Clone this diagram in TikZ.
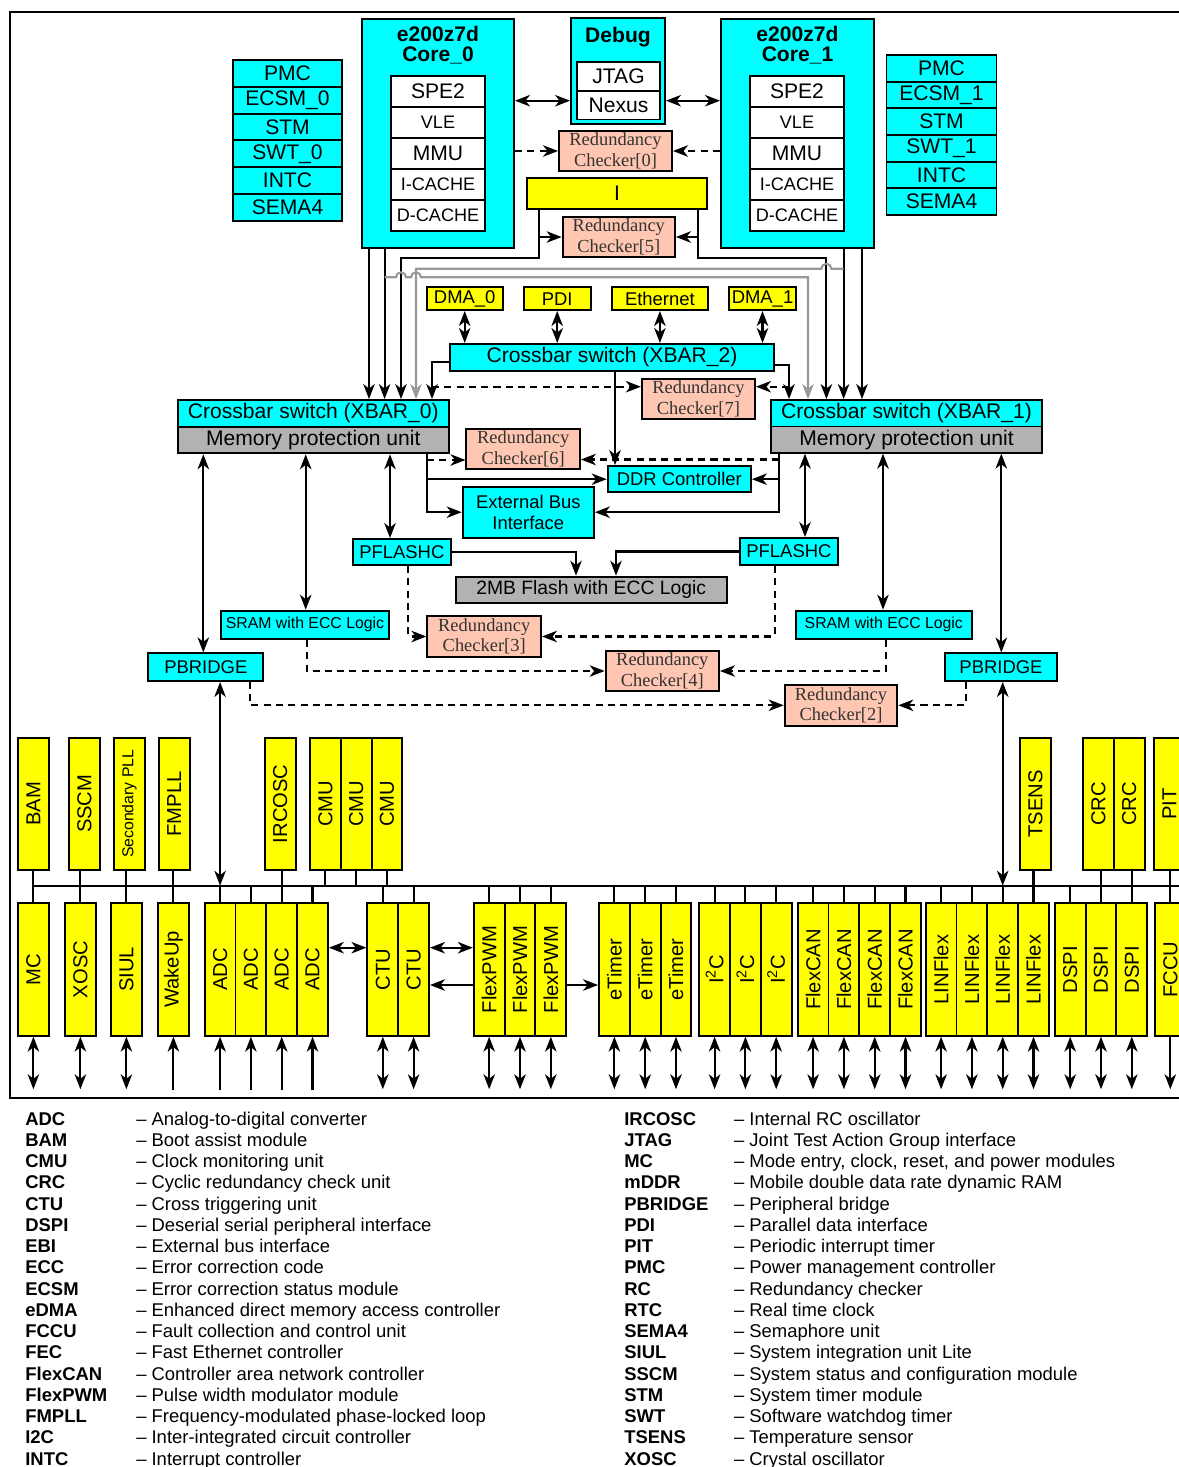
\documentclass[tikz,border=0pt]{standalone}
\usepackage{fontspec}
\setmainfont{Liberation Sans}
\newfontfamily\rcfont{Liberation Serif}
\usepackage{graphicx}
\usetikzlibrary{arrows.meta}
\begin{document}
\begin{tikzpicture}[x=0.02cm,y=-0.02cm,
  blk/.style={draw,line width=1.1pt,inner sep=0pt,font=\fontsize{12}{14}\selectfont},
  sz/.style 2 args={minimum width=#1*0.02cm,minimum height=#2*0.02cm},
  cbox/.style={blk,fill=qqffff},
  ybox/.style={blk,fill=ffffqq},
  gbox/.style={blk,fill=btbtbt},
  wbox/.style={blk,fill=white},
  smallf/.style={font=\fontsize{10.5}{11.9}\selectfont},
  narrowf/.style={font=\fontsize{10.3}{12}\selectfont},
  rcbox/.style={blk,fill=ffccbb,text=tttttt,align=center,font=\rcfont\fontsize{10.5}{11.7}\selectfont,sz={113}{40}},
  vbox/.style={blk,fill=ffffqq,font=\fontsize{11.5}{13}\selectfont,sz={30.8}{132.3}},
  ttl/.style={font=\fontsize{12}{11.5}\selectfont\bfseries,align=center,inner sep=0pt},
  wire/.style={line width=1.2pt},
  arr/.style={wire,-{Stealth[length=8.5pt,width=6.5pt,inset=2.5pt]}},
  rarr/.style={wire,{Stealth[length=8.5pt,width=6.5pt,inset=2.5pt]}-},
  dbl/.style={wire,{Stealth[length=8.5pt,width=6.5pt,inset=2.5pt]}-{Stealth[length=8.5pt,width=6.5pt,inset=2.5pt]}},
  darr/.style={arr,dash pattern=on 4pt off 3pt},
  garr/.style={arr,draw=zzzzzz},
  leg/.style={font=\fontsize{10.5}{12}\selectfont,inner sep=0pt,anchor=base west}]
\definecolor{qqffff}{rgb}{0,1,1}
\definecolor{ffffqq}{rgb}{1,1,0}
\definecolor{btbtbt}{rgb}{0.7,0.7,0.7}
\definecolor{ffccbb}{rgb}{1,0.78,0.7}
\definecolor{zzzzzz}{rgb}{0.6,0.6,0.6}
\definecolor{tttttt}{rgb}{0.2,0.2,0.2}
\useasboundingbox (0,0) rectangle (1179,1467);
\clip (0,0) rectangle (1179,1467);
\draw[wire] (1190,12) -- (9.6,12) -- (9.6,1097.7) -- (1190,1097.7);
\node[cbox,sz={109}{26.8}] (pmcL) at (287.5,73.4) {PMC};
\node[cbox,sz={109}{26.8}] (ecsmL) at (287.5,100.2) {ECSM\_0};
\node[cbox,sz={109}{26.8}] (stmL) at (287.5,127) {STM};
\node[cbox,sz={109}{26.8}] (swtL) at (287.5,153.8) {SWT\_0};
\node[cbox,sz={109}{26.8}] (intcL) at (287.5,180.6) {INTC};
\node[cbox,sz={109}{26.8}] (semaL) at (287.5,207.4) {SEMA4};
\node[cbox,sz={110}{26.7}] (pmcR) at (941.5,68.35) {PMC};
\node[cbox,sz={110}{26.7}] (ecsmR) at (941.5,95) {ECSM\_1};
\node[cbox,sz={110}{26.7}] (stmR) at (941.5,121.7) {STM};
\node[cbox,sz={110}{26.7}] (swtR) at (941.5,148.35) {SWT\_1};
\node[cbox,sz={110}{26.7}] (intcR) at (941.5,175) {INTC};
\node[cbox,sz={110}{26.7}] (semaR) at (941.5,201.7) {SEMA4};
\node[cbox,sz={152}{229}] (core0) at (438,133.5) {};
\node[ttl] (core0t) at (438,45) {e200z7d\\Core\_0};
\node[wbox,sz={94}{31}] (spe2L) at (438,91.5) {SPE2};
\node[wbox,narrowf,sz={94}{31}] (vleL) at (438,122.5) {VLE};
\node[wbox,sz={94}{31}] (mmuL) at (438,153.5) {MMU};
\node[wbox,narrowf,sz={94}{31}] (icL) at (438,184.5) {I-CACHE};
\node[wbox,narrowf,sz={94}{31}] (dcL) at (438,215.5) {D-CACHE};
\node[cbox,sz={153}{229}] (core1) at (797.5,133.5) {};
\node[ttl] (core1t) at (797.5,45) {e200z7d\\Core\_1};
\node[wbox,sz={94}{31}] (spe2R) at (797,91.5) {SPE2};
\node[wbox,narrowf,sz={94}{31}] (vleR) at (797,122.5) {VLE};
\node[wbox,sz={94}{31}] (mmuR) at (797,153.5) {MMU};
\node[wbox,narrowf,sz={94}{31}] (icR) at (797,184.5) {I-CACHE};
\node[wbox,narrowf,sz={94}{31}] (dcR) at (797,215.5) {D-CACHE};
\node[cbox,sz={94}{106}] (debug) at (618,71) {};
\node[ttl] (debugt) at (618,37) {Debug};
\node[wbox,sz={83}{28.8}] (jtag) at (618.5,76.3) {JTAG};
\node[wbox,sz={83}{28.8}] (nexus) at (618.5,105.1) {Nexus};
\node[rcbox] (rc0) at (615.5,151) {Redundancy\\Checker[0]};
\node[ybox,sz={180}{31}] (ibar) at (617,193.5) {I};
\node[rcbox,sz={112.4}{40.6}] (rc5) at (618.8,237) {Redundancy\\Checker[5]};
\node[ybox,smallf,sz={76}{22.7}] (dma0) at (464.7,298.7) {DMA\_0};
\node[ybox,smallf,sz={67}{22.7}] (pdi) at (557.2,298.7) {PDI};
\node[ybox,smallf,sz={96.3}{22.7}] (eth) at (659.9,298.7) {Ethernet};
\node[ybox,smallf,sz={67}{22.7}] (dma1) at (762.5,298.7) {DMA\_1};
\node[cbox,sz={324}{26.7}] (xbar2) at (612,357.3) {Crossbar switch (XBAR\_2)};
\node[rcbox,sz={113.2}{40}] (rc7) at (698.4,399) {Redundancy\\Checker[7]};
\node[cbox,sz={271.3}{27}] (xbar0) at (313.3,413.5) {Crossbar switch (XBAR\_0)};
\node[gbox,sz={271.3}{26.3}] (mpu0) at (313.3,440.15) {Memory protection unit};
\node[cbox,sz={271}{26.5}] (xbar1) at (906.5,413.25) {Crossbar switch (XBAR\_1)};
\node[gbox,sz={271}{26.2}] (mpu1) at (906.5,439.6) {Memory protection unit};
\node[rcbox,sz={113.5}{40}] (rc6) at (523.2,449) {Redundancy\\Checker[6]};
\node[cbox,smallf,sz={143.3}{26.3}] (ddr) at (679.3,479.2) {DDR Controller};
\node[cbox,smallf,align=center,sz={131.3}{51}] (ebi) at (528.3,512.2) {External Bus\\Interface};
\node[cbox,smallf,sz={98.3}{26}] (pflL) at (401.8,552) {PFLASHC};
\node[cbox,smallf,sz={98.6}{27}] (pflR) at (788.9,551.5) {PFLASHC};
\node[gbox,font=\fontsize{11}{13}\selectfont,sz={271}{26.3}] (flash) at (591.2,589.8) {2MB Flash with ECC Logic};
\node[cbox,font=\fontsize{9}{11}\selectfont,sz={168.6}{28.3}] (sramL) at (305,624.8) {SRAM with ECC Logic};
\node[cbox,font=\fontsize{9}{11}\selectfont,sz={176.3}{28.3}] (sramR) at (883.8,624.8) {SRAM with ECC Logic};
\node[rcbox,sz={113.7}{41.6}] (rc3) at (484.2,636.5) {Redundancy\\Checker[3]};
\node[cbox,smallf,sz={115}{27.7}] (pbL) at (205.8,667.2) {PBRIDGE};
\node[cbox,smallf,sz={111.5}{27.5}] (pbR) at (1001,667.2) {PBRIDGE};
\node[rcbox,sz={113.4}{40}] (rc4) at (662.3,671) {Redundancy\\Checker[4]};
\node[rcbox,sz={112.7}{40.7}] (rc2) at (841,705.3) {Redundancy\\Checker[2]};
\foreach \n/\x/\t in {bam/33.4/BAM,sscm/84.4/SSCM,fmpll/174.2/FMPLL,ircosc/280.2/IRCOSC,cmu1/325.4/CMU,cmu2/356.2/CMU,cmu3/387/CMU,tsens/1035.4/TSENS,crc1/1098.4/CRC,crc2/1129.2/CRC,pit/1169.4/PIT}
  \node[vbox] (\n) at (\x,803.8) {\rotatebox{90}{\t}};
\node[vbox] (spll) at (129.4,803.8) {\rotatebox{90}{\fontsize{9}{10}\selectfont Secondary PLL}};
\foreach \n/\x/\t in {mc/33.4/MC,xosc/80.4/XOSC,siul/126.4/SIUL,wake/173.4/WakeUp,adc1/220.1/ADC,adc2/250.9/ADC,adc3/281.7/ADC,adc4/312.5/ADC,ctu1/382.8/CTU,ctu2/413.6/CTU,pwm1/489.2/FlexPWM,pwm2/520/FlexPWM,pwm3/550.8/FlexPWM,etm1/614.4/eTimer,etm2/645.2/eTimer,etm3/676/eTimer,iic1/714.6/{I\textsuperscript{2}C},iic2/745.4/{I\textsuperscript{2}C},iic3/776.2/{I\textsuperscript{2}C},can1/813.1/FlexCAN,can2/843.9/FlexCAN,can3/874.7/FlexCAN,can4/905.5/FlexCAN,lin1/941.1/LINFlex,lin2/971.9/LINFlex,lin3/1002.7/LINFlex,lin4/1033.5/LINFlex,dspi1/1070.2/DSPI,dspi2/1101/DSPI,dspi3/1131.8/DSPI,fccu/1170.3/FCCU}
  \node[vbox,sz={30.8}{132.4}] (\n) at (\x,969.5) {\rotatebox{90}{\t}};
\draw[dbl] (core0.east |- 0,100.7) -- (debug.west |- 0,100.7);
\draw[dbl] (debug.east |- 0,100.7) -- (core1.west |- 0,100.7);
\draw[darr] (core0.east |- rc0.west) -- (rc0.west);
\draw[darr] (core1.west |- rc0.east) -- (rc0.east);
\draw[arr] (539,0 |- ibar.south) -- (539,258.3) -| (401,0 |- xbar0.north);
\draw[arr] (539,0 |- rc5.west) -- (rc5.west);
\draw[arr] (697.6,0 |- ibar.south) -- (697.6,258.3) -| (826.4,0 |- xbar1.north);
\draw[arr] (697.6,0 |- rc5.east) -- (rc5.east);
\foreach \x in {369,384.6} \draw[arr] (\x,0 |- core0.south) -- (\x,0 |- xbar0.north);
\foreach \x in {843.6,862} \draw[arr] (\x,0 |- core1.south) -- (\x,0 |- xbar1.north);
\draw[garr] (843.6,268.7) -- (831.4,268.7) arc[start angle=0,end angle=-180,radius=5] -- (416,268.7) -- (416,0 |- xbar0.north);
\draw[garr] (384.6,277.3) -- (396,277.3) arc[start angle=180,end angle=360,radius=5] -- (411,277.3) arc[start angle=180,end angle=360,radius=5] -- (808,277.3) -- (808,0 |- xbar1.north);
\foreach \n in {dma0,pdi,eth,dma1} \draw[dbl] (\n.south) -- (\n.south |- xbar2.north);
\draw[arr] (xbar2.west |- 0,362.3) -| (432,0 |- xbar0.north);
\draw[arr] (xbar2.east |- 0,365) -| (789,0 |- xbar1.north);
\draw[arr] (615,0 |- xbar2.south) -- (615,0 |- ddr.north);
\draw[darr] (432,386.7) -- (rc7.west |- 0,386.7);
\draw[darr] (789,386.7) -- (rc7.east |- 0,386.7);
\draw[dbl] (203.3,0 |- mpu0.south) -- (203.3,0 |- pbL.north);
\draw[dbl] (305.7,0 |- mpu0.south) -- (305.7,0 |- sramL.north);
\draw[dbl] (390,0 |- mpu0.south) -- (390,0 |- pflL.north);
\draw[arr] (427,0 |- mpu0.south) |- (ebi.west);
\draw[arr] (427,0 |- ddr.west) -- (ddr.west);
\draw[darr] (427,460) -- (rc6.west |- 0,460);
\draw[dbl] (805,0 |- mpu1.south) -- (805,0 |- pflR.north);
\draw[dbl] (883,0 |- mpu1.south) -- (883,0 |- sramR.north);
\draw[dbl] (1001.3,0 |- mpu1.south) -- (1001.3,0 |- pbR.north);
\draw[arr] (779,0 |- mpu1.south) |- (ebi.east);
\draw[arr] (779,0 |- ddr.east) -- (ddr.east);
\draw[darr] (779,459.5) -- (rc6.east |- 0,459.5);
\draw[arr] (pflL.east) -| (576,0 |- flash.north);
\draw[arr] (pflR.west) -| (616,0 |- flash.north);
\draw[darr] (408.3,0 |- pflL.south) |- (rc3.west);
\draw[darr] (774.7,0 |- pflR.south) |- (rc3.east);
\draw[darr] (306.7,0 |- sramL.south) |- (rc4.west);
\draw[darr] (886,0 |- sramR.south) |- (rc4.east);
\draw[darr] (250,0 |- pbL.south) |- (rc2.west);
\draw[darr] (965.6,0 |- pbR.south) |- (rc2.east);
\coordinate (busL) at (33.4,885.7);
\coordinate (busR) at (1190,885.7);
\draw[wire] (busL) -- (busR);
\draw[dbl] (adc1.north |- pbL.south) -- (adc1.north |- busL);
\draw[dbl] (lin3.north |- pbR.south) -- (lin3.north |- busL);
\foreach \t/\b in {bam/mc,sscm/xosc,spll/siul,fmpll/wake,ircosc/adc3,tsens/lin4,crc1/dspi2,crc2/dspi3,pit/fccu}
  \draw[wire] (\b.north |- \t.south) -- (\b.north);
\foreach \t in {cmu1,cmu2,cmu3} \draw[wire] (\t.south) -- (\t.south |- busL);
\foreach \b in {adc1,adc2,adc4,ctu1,ctu2,pwm1,pwm2,pwm3,etm1,etm2,etm3,iic1,iic2,iic3,can1,can2,can3,can4,lin1,lin2,lin3,dspi1}
  \draw[wire] (\b.north |- busL) -- (\b.north);
\draw[dbl] (adc4.east |- 0,947.7) -- (ctu1.west |- 0,947.7);
\draw[dbl] (ctu2.east |- 0,947.7) -- (pwm1.west |- 0,947.7);
\draw[arr] (pwm1.west |- 0,985) -- (ctu2.east |- 0,985);
\draw[arr] (pwm3.east |- 0,985) -- (etm1.west |- 0,985);
\foreach \b in {mc,xosc,siul,ctu1,ctu2,pwm1,pwm2,pwm3,etm1,etm2,etm3,iic1,iic2,iic3,can1,can2,can3,can4,lin1,lin2,lin3,lin4,dspi1,dspi2,dspi3}
  \draw[dbl] (\b.south) -- ++(0,52.6);
\foreach \b in {wake,adc1,adc2,adc3,adc4} \draw[rarr] (\b.south) -- ++(0,53.6);
\draw[arr] (fccu.south) -- ++(0,52.6);
\foreach \k/\d [count=\i from 0] in {ADC/Analog-to-digital converter,BAM/Boot assist module,CMU/Clock monitoring unit,CRC/Cyclic redundancy check unit,CTU/Cross triggering unit,DSPI/Deserial serial peripheral interface,EBI/External bus interface,ECC/Error correction code,ECSM/Error correction status module,eDMA/Enhanced direct memory access controller,FCCU/Fault collection and control unit,FEC/Fast Ethernet controller,FlexCAN/Controller area network controller,FlexPWM/Pulse width modulator module,FMPLL/Frequency-modulated phase-locked loop,I2C/Inter-integrated circuit controller,INTC/Interrupt controller}{
  \node[leg] (lk\i) at (25,{1125+21.25*\i}) {\bfseries\k};
  \node[leg] (ld\i) at (135.9,{1125+21.25*\i}) {– \d};
}
\foreach \k/\d [count=\i from 0] in {IRCOSC/Internal RC oscillator,JTAG/Joint Test Action Group interface,MC/{Mode entry, clock, reset, and power modules},mDDR/Mobile double data rate dynamic RAM,PBRIDGE/Peripheral bridge,PDI/Parallel data interface,PIT/Periodic interrupt timer,PMC/Power management controller,RC/Redundancy checker,RTC/Real time clock,SEMA4/Semaphore unit,SIUL/System integration unit Lite,SSCM/System status and configuration module,STM/System timer module,SWT/Software watchdog timer,TSENS/Temperature sensor,XOSC/Crystal oscillator}{
  \node[leg] (rk\i) at (624,{1125+21.25*\i}) {\bfseries\k};
  \node[leg] (rd\i) at (733.7,{1125+21.25*\i}) {– \d};
}
\end{tikzpicture}
\end{document}
